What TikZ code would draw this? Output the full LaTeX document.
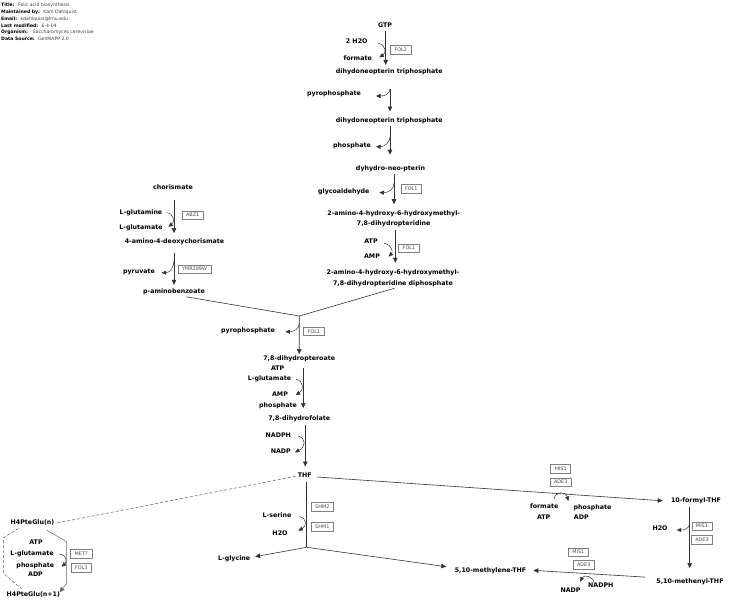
\documentclass[tikz,border=0pt]{standalone}
\usepackage{fontspec}
\setmainfont{DejaVu Sans}
\usetikzlibrary{arrows.meta,calc}
\begin{document}
\begin{tikzpicture}[x=1pt,y=-1pt,
  lbl/.style={font=\fontsize{6.3}{7}\selectfont\bfseries, inner sep=1pt, text height=4.7pt, text depth=1.5pt},
  lbltwo/.style={font=\fontsize{6.3}{10.5}\selectfont\bfseries, inner sep=1pt, align=center},
  gene/.style={draw=black!50, fill=white, font=\fontsize{4.9}{5.5}\selectfont, text=black!70, minimum width=20pt, minimum height=8.5pt, inner xsep=4pt, inner ysep=1pt, line width=0.5pt},
  rxn/.style={draw=black!80, line width=0.6pt, -{Triangle[length=5pt,width=4.5pt]}},
  plainln/.style={draw=black!80, line width=0.6pt},
  side/.style={draw=black!80, line width=0.5pt, -{Triangle[length=4.5pt,width=4pt]}},
  hdr/.style={font=\fontsize{4.6}{6}\selectfont\bfseries, anchor=west, inner sep=0pt},
  hval/.style={font=\fontsize{4.6}{6}\selectfont, anchor=west, inner sep=0pt, text=black!75, xshift=3pt},
  dashln/.style={draw=black!65, line width=0.5pt, dash pattern=on 3pt off 2pt},
]
\useasboundingbox[fill=white] (0,0) rectangle (736,608);

% header
\node[hdr] (h1) at (1,5) {Title:};
\node[hval] (v1) at (h1.east) {Folic acid biosynthesis};
\node[hdr] (h2) at (1,12.3) {Maintained by:};
\node[hval] (v2) at (h2.east) {Kam Dahlquist};
\node[hdr] (h3) at (1,19) {Email:};
\node[hval] (v3) at (h3.east) {kdahlquist@lmu.edu};
\node[hdr] (h4) at (1,25.7) {Last modified:};
\node[hval] (v4) at (h4.east) {6-4-04};
\node[hdr] (h5) at (1,32.3) {Organism:};
\node[hval, xshift=1.5pt] (v5) at (h5.east) {Saccharomyces cerevisiae};
\node[hdr] (h6) at (1,39.3) {Data Source:};
\node[hval] (v6) at (h6.east) {GenMAPP 2.0};

% pterin branch
\node[lbl] (gtp) at (385,25.7) {GTP};
\node[lbl] (h2oa) at (356.7,42.3) {2 H2O};
\node[lbl] (forma) at (357.7,59) {formate};
\node[gene] (fol2) at (400.8,49.7) {FOL2};
\node[lbl] (dntpa) at (389.3,71.7) {dihydoneopterin triphosphate};
\node[lbl] (ppia) at (334,94) {pyrophosphate};
\node[lbl] (dntpb) at (389.3,121) {dihydoneopterin triphosphate};
\node[lbl] (pia) at (352,146) {phosphate};
\node[lbl] (dnp) at (390.5,169) {dyhydro-neo-pterin};
\node[lbl] (glyc) at (343.8,192.3) {glycoaldehyde};
\node[gene] (fola) at (411.3,188.8) {FOL1};
\node[lbltwo] (ahhp) at (393.7,218.7) {2-amino-4-hydroxy-6-hydroxymethyl-\\7,8-dihydropteridine};
\node[lbl] (atpa) at (371,241.7) {ATP};
\node[lbl] (ampa) at (372,257.3) {AMP};
\node[gene] (folb) at (409,248.2) {FOL1};
\node[lbltwo] (ahhpp) at (393,278.3) {2-amino-4-hydroxy-6-hydroxymethyl-\\7,8-dihydropteridine diphosphate};

% pABA branch
\node[lbl] (chor) at (173,188.3) {chorismate};
\node[lbl] (gln) at (141,212.7) {L-glutamine};
\node[lbl] (glua) at (141,227.7) {L-glutamate};
\node[gene] (abz) at (192.7,215) {ABZ1};
\node[lbl] (adc) at (174.5,241.7) {4-amino-4-deoxychorismate};
\node[lbl] (pyr) at (139,272.3) {pyruvate};
\node[gene] (ymr) at (194.5,269.2) {YMR289W};
\node[lbl] (paba) at (174,292.3) {p-aminobenzoate};

% folate
\coordinate (ja) at (299.3,316);
\node[lbl] (ppib) at (248,331) {pyrophosphate};
\node[gene] (folc) at (314,331.3) {FOL1};
\node[lbl] (dhpt) at (299.2,359.3) {7,8-dihydropteroate};
\node[lbl] (atpb) at (277.7,369) {ATP};
\node[lbl] (glub) at (269.5,379.3) {L-glutamate};
\node[lbl] (ampb) at (280,395) {AMP};
\node[lbl] (pib) at (278,406) {phosphate};
\node[lbl] (dhf) at (299.2,419.3) {7,8-dihydrofolate};
\node[lbl] (nadpha) at (278.3,436) {NADPH};
\node[lbl] (nadpa) at (280.8,452.3) {NADP};
\node[lbl] (thf) at (304.7,476) {THF};

% one-carbon
\node[gene] (misa) at (560.7,468.7) {MIS1};
\node[gene] (adea) at (560.7,482.2) {ADE3};
\node[lbl] (formb) at (544.2,506.7) {formate};
\node[lbl] (pic) at (592.5,508.3) {phosphate};
\node[lbl] (atpc) at (543.7,518.3) {ATP};
\node[lbl] (adpc) at (581.3,518.3) {ADP};
\node[lbl] (fthf) at (696,501.3) {10-formyl-THF};
\node[lbl] (h2ob) at (660,529) {H2O};
\node[gene] (misb) at (702,526.2) {MIS1};
\node[gene] (adeb) at (702,539.7) {ADE3};
\node[lbl] (mthf) at (690,581.7) {5,10-methenyl-THF};
\node[lbl] (mlthf) at (490.5,571) {5,10-methylene-THF};
\node[gene] (misc) at (578.3,552.2) {MIS1};
\node[gene] (adec) at (583.7,564.5) {ADE3};
\node[lbl] (nadpb) at (570.5,591) {NADP};
\node[lbl] (nadphb) at (600.8,586) {NADPH};
\node[gene] (shmb) at (322.3,506.7) {SHM2};
\node[gene] (shma) at (322.3,526.5) {SHM1};
\node[lbl] (ser) at (277,515.7) {L-serine};
\node[lbl] (h2oc) at (280,534) {H2O};
\coordinate (jb) at (306.7,547.3);
\node[lbl] (gly) at (234.2,559) {L-glycine};

% polyglutamate
\node[lbl] (hn) at (32.5,523.3) {H4PteGlu(n)};
\node[lbl] (atpd) at (36,543.3) {ATP};
\node[lbl] (gluc) at (32,554) {L-glutamate};
\node[lbl] (pid) at (35.3,566) {phosphate};
\node[lbl] (adpd) at (35.5,575) {ADP};
\node[gene] (met) at (81.3,553.5) {MET7};
\node[gene] (folt) at (81.3,567.5) {FOL3};
\node[lbl] (hnp) at (33.3,595) {H4PteGlu(n+1)};

% main reactions
\draw[rxn, shorten <=1pt, shorten >=2.5pt] ([xshift=0.7pt]gtp.south) -- ([xshift=-3.6pt]dntpa.north);
\draw[rxn, shorten <=12.5pt, shorten >=5.2pt] ([xshift=0.7pt]dntpa.south) -- ([xshift=0.7pt]dntpb.north);
\draw[rxn, shorten <=1pt, shorten >=10pt] ([xshift=0.7pt]dntpb.south) -- ([xshift=-0.5pt]dnp.north);
\draw[rxn, shorten <=0.5pt, shorten >=5pt] ([xshift=3.5pt]dnp.south) -- ([xshift=0.3pt]ahhp.north);
\draw[rxn, shorten <=1.8pt, shorten >=6pt] ([xshift=1.6pt]ahhp.south) -- ([xshift=2.3pt]ahhpp.north);
\draw[rxn, shorten <=7.6pt, shorten >=4.3pt] ([xshift=1pt]chor.south) -- ([xshift=-0.5pt]adc.north);
\draw[rxn, shorten <=6.5pt, shorten >=3.2pt] ([xshift=-0.5pt]adc.south) -- (paba.north);
\draw[plainln, shorten <=1.3pt] ([xshift=11pt]paba.south) -- (ja);
\draw[plainln, shorten <=1.8pt] ([xshift=3pt]ahhpp.south) -- (ja);
\draw[rxn, shorten >=1pt] (ja) -- (dhpt.north);
\draw[rxn, shorten <=3.9pt, shorten >=6.9pt] ([xshift=4.1pt]dhpt.south) -- ([xshift=4.1pt]dhf.north);
\draw[rxn, shorten <=1.6pt, shorten >=5.2pt] ([xshift=6.1pt]dhf.south) -- ([xshift=0.6pt]thf.north);
\draw[rxn, shorten <=4.4pt, shorten >=7.2pt] ([yshift=-0.7pt]thf.east) -- (fthf.west);
\draw[rxn, shorten <=1.3pt, shorten >=9.3pt] ([xshift=-6.3pt]fthf.south) -- ([xshift=-0.3pt]mthf.north);
\draw[rxn, shorten <=10pt, shorten >=6pt] ([yshift=4pt]mthf.west) -- ([yshift=1pt]mlthf.east);
\draw[plainln, shorten <=1.6pt] ([xshift=2pt]thf.south) -- (jb);
\draw[rxn, shorten >=3.8pt] (jb) -- ([yshift=1.7pt]gly.east);
\draw[rxn, shorten >=7.5pt] (jb) -- ([yshift=3.3pt]mlthf.west);
\draw[dashln, shorten <=1pt] (thf.west) -- (hn.east);

% polyglutamate cycle
\coordinate (hla) at (3.3,537.7);
\coordinate (hlb) at (3.3,573.3);
\coordinate (hra) at (66.7,541.7);
\coordinate (hrb) at (66.7,583.3);
\draw[dashln] ([xshift=-14.2pt,yshift=-0.9pt]hn.south) -- (hla) -- (hlb) -- ([xshift=-11.6pt,yshift=1.9pt]hnp.north);
\draw[draw=black!60, line width=0.5pt, -{Triangle[length=5pt,width=4.5pt]}] ([xshift=14.2pt,yshift=-2.6pt]hn.south) -- (hra) -- (hrb) -- ([xshift=-1.5pt,yshift=-1.5pt]hnp.north east);

% side reactions
\coordinate (s1a) at (378.3,43.3);   \coordinate (s1b) at (379.3,57.3);
\coordinate (s2a) at (390,89);       \coordinate (s2b) at (376,96);
\coordinate (s3a) at (390,136.7);    \coordinate (s3b) at (376,146.7);
\coordinate (s4a) at (394,183.3);    \coordinate (s4b) at (379.3,192.7);
\coordinate (s5a) at (384,243.3);    \coordinate (s5b) at (388.7,256.7);
\coordinate (s6a) at (166.7,212.7);  \coordinate (s6b) at (168.3,226.7);
\coordinate (s7a) at (174,261);      \coordinate (s7b) at (161.7,272.7);
\coordinate (s8a) at (299.3,323.3);  \coordinate (s8b) at (285.3,331.7);
\coordinate (s9a) at (296,379.3);    \coordinate (s9b) at (295.7,395);
\coordinate (s10a) at (298.3,436);   \coordinate (s10b) at (295,452.3);
\coordinate (s11a) at (554,499.3);   \coordinate (s11b) at (568.3,501);
\coordinate (s12a) at (689.7,523.3); \coordinate (s12b) at (676.7,530);
\coordinate (s13a) at (594.3,584.3); \coordinate (s13b) at (580,581.7);
\coordinate (s14a) at (299.3,516.7); \coordinate (s14b) at (298.3,530.7);
\coordinate (s15a) at (59.3,554);    \coordinate (s15b) at (61.7,566.7);

\draw[side] (s1a) .. controls (386,45) and (386.5,53) .. (s1b);
\draw[side] (s2a) .. controls (390,94) and (385,96) .. (s2b);
\draw[side] (s3a) .. controls (390,142) and (385,146.7) .. (s3b);
\draw[side] (s4a) .. controls (394,189) and (389,192.7) .. (s4b);
\draw[side] (s5a) .. controls (392,244.5) and (393,252) .. (s5b);
\draw[side] (s6a) .. controls (174,213.5) and (175,222) .. (s6b);
\draw[side] (s7a) .. controls (174,267) and (170,272.7) .. (s7b);
\draw[side] (s8a) .. controls (299.3,329) and (294,331.7) .. (s8b);
\draw[side] (s9a) .. controls (304,381) and (304,390) .. (s9b);
\draw[side] (s10a) .. controls (306,438) and (306,447) .. (s10b);
\draw[side] (s11a) .. controls (555,491) and (566,491) .. (s11b);
\draw[side] (s12a) .. controls (689.7,528) and (685,530) .. (s12b);
\draw[side] (s13a) .. controls (594,576) and (584,574) .. (s13b);
\draw[side] (s14a) .. controls (307,518) and (307,526) .. (s14b);
\draw[side] (s15a) .. controls (67,555) and (67,562) .. (s15b);
\end{tikzpicture}
\end{document}
